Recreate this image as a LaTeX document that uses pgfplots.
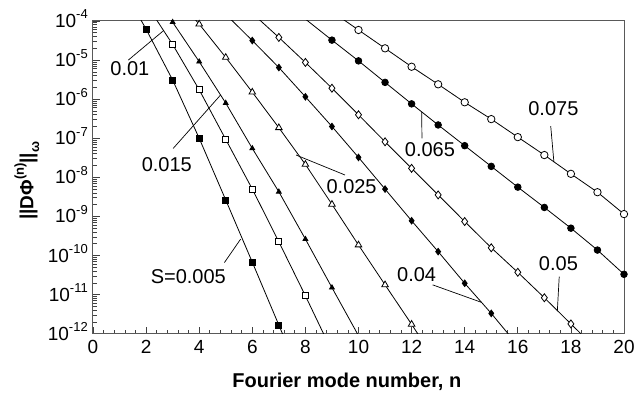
\documentclass[border=0pt]{standalone}
\usepackage{fontspec}
\setmainfont{Liberation Sans}
\usepackage{pgfplots}
\pgfplotsset{compat=1.18}
\newcommand{\tl}[1]{10\smash{\raisebox{0.45em}{\fontsize{13}{13}\selectfont -#1}}}
\newcommand{\ann}{\fontsize{20}{20}\selectfont}
\begin{document}
\begin{tikzpicture}
\path[use as bounding box] (-93pt,-62.3pt) rectangle (541pt,333.7pt);
\begin{axis}[
  at={(0,0)}, anchor=south west,
  scale only axis, width=531pt, height=312.7pt,
  ymode=log, xmin=0, xmax=20, ymin=1e-12, ymax=1e-4,
  xtick={0,2,...,20}, minor x tick num=4,
  ytick={1e-12,1e-11,1e-10,1e-9,1e-8,1e-7,1e-6,1e-5,1e-4},
  minor ytick={2e-12,3e-12,4e-12,5e-12,6e-12,7e-12,8e-12,9e-12,
               2e-11,3e-11,4e-11,5e-11,6e-11,7e-11,8e-11,9e-11,
               2e-10,3e-10,4e-10,5e-10,6e-10,7e-10,8e-10,9e-10,
               2e-9,3e-9,4e-9,5e-9,6e-9,7e-9,8e-9,9e-9,
               2e-8,3e-8,4e-8,5e-8,6e-8,7e-8,8e-8,9e-8,
               2e-7,3e-7,4e-7,5e-7,6e-7,7e-7,8e-7,9e-7,
               2e-6,3e-6,4e-6,5e-6,6e-6,7e-6,8e-6,9e-6,
               2e-5,3e-5,4e-5,5e-5,6e-5,7e-5,8e-5,9e-5},
  yticklabels={\tl{12},\tl{11},\tl{10},\tl{9},\tl{8},\tl{7},\tl{6},\tl{5},\tl{4}},
  tick align=inside, xtick pos=left, ytick pos=left,
  major tick length=7pt, minor tick length=4pt,
  axis line style={black!65, line width=1pt},
  every tick/.style={black!75, line width=0.7pt},
  /pgf/number format/assume math mode=true,
  xticklabel style={font=\fontsize{19}{19}\selectfont, yshift=-2.7pt},
  yticklabel style={font=\fontsize{19}{19}\selectfont, xshift=-1.7pt},
  xlabel={Fourier mode number, n},
  x label style={at={(axis description cs:0.478,-0.1257)}, anchor=north, inner sep=0pt, font=\fontsize{20}{20}\selectfont\bfseries},
  ylabel={||DΦ\raisebox{0.5em}{\fontsize{13}{13}\selectfont (n)}||\raisebox{-0.3em}{\fontsize{13}{13}\selectfont ω}},
  y label style={at={(axis description cs:-0.1124,0.489)}, rotate=0, anchor=base, font=\fontsize{19}{19}\selectfont\bfseries},
  every axis plot/.append style={black, line width=0.8pt, mark options={solid, line width=0.7pt}},
]
% S=0.005
\addplot[mark=square*, mark size=3pt, mark options={fill=black}] coordinates {
 (1,1e-3) (2,6.17e-5) (3,3.09e-6) (4,1e-7) (5,2.63e-9) (6,6.76e-11) (7,1.66e-12) (8,3.98e-14)};
% S=0.01
\addplot[mark=square*, mark size=3pt, mark options={fill=white}] coordinates {
 (2,2.75e-4) (3,2.51e-5) (4,1.74e-6) (5,9.33e-8) (6,5.01e-9) (7,2.24e-10) (8,9.33e-12) (9,3.55e-13)};
% S=0.015
\addplot[mark=triangle*, mark size=2.8pt, mark options={fill=black}] coordinates {
 (2,8.91e-4) (3,9.33e-5) (4,9.12e-6) (5,7.94e-7) (6,5.50e-8) (7,4.27e-9) (8,2.63e-10) (9,1.51e-11) (10,8.91e-13)};
% S=0.025
\addplot[mark=triangle*, mark size=3.8pt, mark options={fill=white}] coordinates {
 (3,5.01e-4) (4,8.32e-5) (5,1.17e-5) (6,1.51e-6) (7,1.86e-7) (8,2.14e-8) (9,2.04e-9) (10,1.86e-10) (11,1.78e-11) (12,1.74e-12) (13,1.58e-13)};
% S=0.04
\addplot[mark=diamond*, mark size=3.3pt, mark options={fill=black}] coordinates {
 (5,1.48e-4) (6,3.16e-5) (7,6.46e-6) (8,1.15e-6) (9,2.00e-7) (10,3.24e-8) (11,5.01e-9) (12,7.76e-10) (13,1.26e-10) (14,1.95e-11) (15,3.31e-12) (16,5.01e-13)};
% S=0.05
\addplot[mark=diamond*, mark size=4pt, mark options={fill=white}] coordinates {
 (6,1.58e-4) (7,3.80e-5) (8,8.71e-6) (9,1.91e-6) (10,3.98e-7) (11,8.13e-8) (12,1.70e-8) (13,3.55e-9) (14,7.41e-10) (15,1.58e-10) (16,3.72e-11) (17,8.32e-12) (18,1.78e-12) (19,3.80e-13)};
% S=0.065
\addplot[mark=*, mark size=3.3pt, mark options={fill=black}] coordinates {
 (8,1.12e-4) (9,3.24e-5) (10,9.55e-6) (11,2.69e-6) (12,7.59e-7) (13,2.19e-7) (14,6.46e-8) (15,1.91e-8) (16,5.62e-9) (17,1.70e-9) (18,5.01e-10) (19,1.38e-10) (20,3.31e-11)};
% S=0.075
\addplot[mark=*, mark size=3.7pt, mark options={fill=white}] coordinates {
 (9,1.74e-4) (10,5.89e-5) (11,2.00e-5) (12,6.76e-6) (13,2.40e-6) (14,8.32e-7) (15,3.09e-7) (16,1.07e-7) (17,3.72e-8) (18,1.23e-8) (19,4.17e-9) (20,1.15e-9)};
% annotations
\draw[black, line width=0.7pt] (axis cs:1.33,1e-5) -- (axis cs:2.65,5.62e-5);
\node[font=\ann] at (axis cs:1.39,6.17e-6) {0.01};
\draw[black, line width=0.7pt] (axis cs:3.02,5.50e-8) -- (axis cs:4.81,1.29e-6);
\node[font=\ann] at (axis cs:2.78,2.09e-8) {0.015};
\draw[black, line width=0.7pt] (axis cs:4.95,6.61e-11) -- (axis cs:5.56,2.63e-10);
\node[font=\ann] at (axis cs:3.59,2.88e-11) {S=0.005};
\draw[black, line width=0.7pt] (axis cs:9.49,1.15e-8) -- (axis cs:7.65,3.72e-8);
\node[font=\ann] at (axis cs:9.74,5.75e-9) {0.025};
\draw[black, line width=0.7pt] (axis cs:12.39,1e-7) -- (axis cs:12.38,4.79e-7);
\node[font=\ann] at (axis cs:12.69,5.01e-8) {0.065};
\draw[black, line width=0.7pt] (axis cs:17.24,2.04e-7) -- (axis cs:17.36,2.45e-8);
\node[font=\ann] at (axis cs:17.34,5.89e-7) {0.075};
\draw[black, line width=0.7pt] (axis cs:12.79,1.78e-11) -- (axis cs:14.64,6.31e-12);
\node[font=\ann] at (axis cs:12.19,3.31e-11) {0.04};
\draw[black, line width=0.7pt] (axis cs:17.56,2.88e-11) -- (axis cs:17.49,3.89e-12);
\node[font=\ann] at (axis cs:17.53,6.31e-11) {0.05};
\end{axis}
\end{tikzpicture}
\end{document}
